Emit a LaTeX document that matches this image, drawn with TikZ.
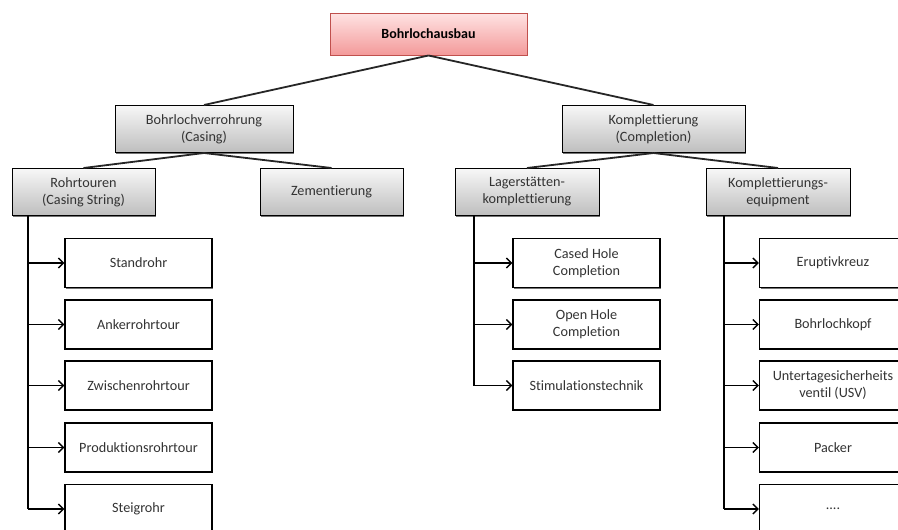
\documentclass[tikz,border=0pt]{standalone}
\usepackage{fontspec}
\setmainfont{Carlito}[Ligatures={NoCommon}]
\usetikzlibrary{arrows.meta,shadows}
\definecolor{rootTop}{HTML}{FFE3E3}
\definecolor{rootBot}{HTML}{F39A9A}
\definecolor{rootLine}{HTML}{C0504D}
\definecolor{grayTop}{HTML}{F7F7F7}
\definecolor{grayBot}{HTML}{BEBEBE}
\begin{document}
\begin{tikzpicture}[x=1pt,y=-1pt,
  font=\fontsize{14.2}{17}\selectfont,
  boxshadow/.style={drop shadow={shadow xshift=1pt,shadow yshift=-1.2pt,fill=black,opacity=0.55}},
  rootbox/.style={draw=rootLine,line width=1pt,top color=rootTop,bottom color=rootBot,
    minimum width=197pt,minimum height=42pt,inner sep=1pt,font=\fontsize{14}{17}\selectfont\bfseries,
    boxshadow},
  graybox/.style={draw=black,line width=1pt,top color=grayTop,bottom color=grayBot,
    minimum height=47pt,inner sep=1pt,align=center,text=black!80,boxshadow},
  leafbox/.style={draw=black,line width=1.1pt,fill=white,minimum width=147pt,minimum height=49pt,
    inner sep=1pt,align=center,text=black!80,boxshadow},
  tree/.style={line width=1.8pt,black!85},
  trunk/.style={line width=1.8pt,black},
  feed/.style={line width=1.6pt,black,-{Straight Barb[length=5pt,width=10pt,line width=1.4pt]}}
]
\useasboundingbox (0,0) rectangle (898,530);

% top level
\node[rootbox] (root) at (428.5,34) {Bohrlochausbau};

% second level
\node[graybox,minimum width=178pt] (casing) at (204,129) {Bohrlochverrohrung\\(Casing)};
\node[graybox,minimum width=183pt] (compl) at (653.5,129) {Komplettierung\\(Completion)};

% third level
\node[graybox,minimum width=143pt] (strings) at (83.5,192) {Rohrtouren\\(Casing String)};
\node[graybox,minimum width=143pt] (cement) at (331.5,192) {Zementierung};
\node[graybox,minimum width=144pt] (reservoir) at (527,192) {Lagerstätten-\\komplettierung};
\node[graybox,minimum width=144pt] (equip) at (778,192) {Komplettierungs-\\equipment};

% casing strings
\node[leafbox] (a1) at (138.5,263) {Standrohr};
\node[leafbox] (a2) at (138.5,324.5) {Ankerrohrtour};
\node[leafbox] (a3) at (138.5,385.5) {Zwischenrohrtour};
\node[leafbox] (a4) at (138.5,447.5) {Produktionsrohrtour};
\node[leafbox] (a5) at (138.5,509) {Steigrohr};

% reservoir completion
\node[leafbox] (b1) at (586.5,263) {Cased Hole\\Completion};
\node[leafbox] (b2) at (586.5,324.5) {Open Hole\\Completion};
\node[leafbox] (b3) at (586.5,385.5) {Stimulationstechnik};

% completion equipment
\node[leafbox] (c1) at (833,263) {Eruptivkreuz};
\node[leafbox] (c2) at (833,324.5) {Bohrlochkopf};
\node[leafbox] (c3) at (833,385.5) {Untertagesicherheits\\ventil (USV)};
\node[leafbox] (c4) at (833,447.5) {Packer};
\node[leafbox] (c5) at (833,509) {....};

% tree connectors
\draw[tree] (root.south) -- (casing.north);
\draw[tree] (root.south) -- (compl.north);
\draw[tree] (casing.south) -- (strings.north);
\draw[tree] (casing.south) -- (cement.north);
\draw[tree] (compl.south) -- (reservoir.north);
\draw[tree] (compl.south) -- (equip.north);

% trunks
\coordinate (ta) at (28,215.5);
\coordinate (tb) at (474,215.5);
\coordinate (tc) at (724,215.5);
\draw[trunk] (ta) -- (ta |- a5.west);
\draw[trunk] (tb) -- (tb |- b3.west);
\draw[trunk] (tc) -- (tc |- c5.west);

% feeds into the leaf boxes
\foreach \n in {a1,a2,a3,a4,a5} \draw[feed] (ta |- \n.west) -- (\n.west);
\foreach \n in {b1,b2,b3} \draw[feed] (tb |- \n.west) -- (\n.west);
\foreach \n in {c1,c2,c3,c4,c5} \draw[feed] (tc |- \n.west) -- (\n.west);
\end{tikzpicture}
\end{document}
